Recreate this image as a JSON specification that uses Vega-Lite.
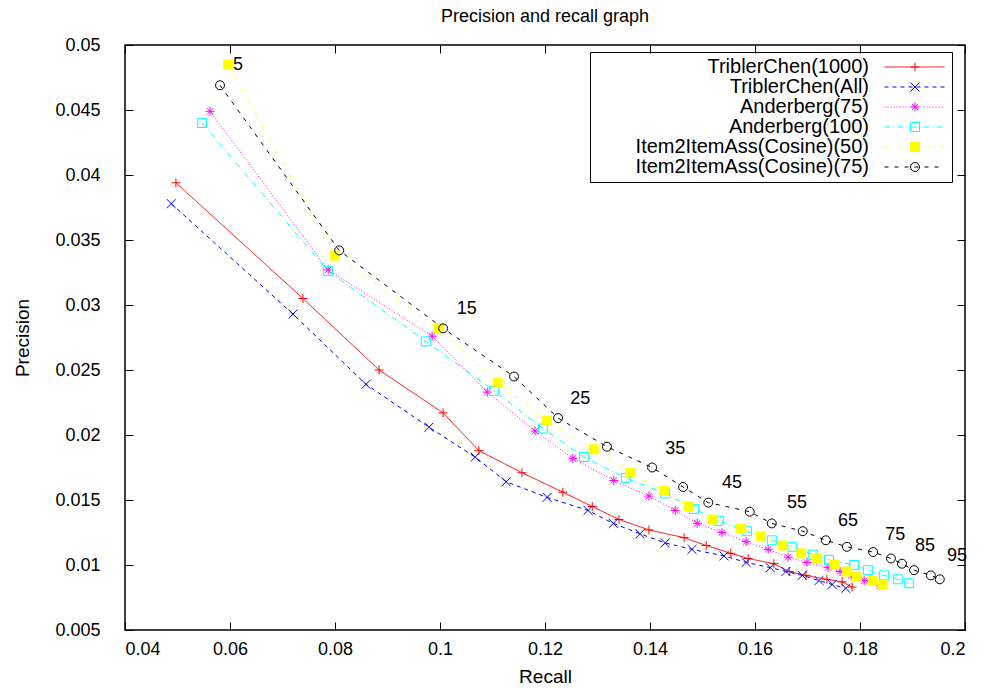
{
  "$schema": "https://vega.github.io/schema/vega-lite/v6.json",
  "autosize": "none",
  "width": 840,
  "height": 585,
  "padding": {"left": 125, "top": 45, "right": 18, "bottom": 60},
  "background": "white",
  "title": {"text": "Precision and recall graph", "font": "Liberation Sans", "fontSize": 18, "fontWeight": "normal", "color": "#000", "offset": 10, "anchor": "middle"},
  "config": {
    "view": {"stroke": "#000", "strokeWidth": 1.5},
    "font": "Liberation Sans",
    "axis": {"grid": false, "domain": false, "tickColor": "#000", "tickSize": -8, "tickWidth": 1, "labelFont": "Liberation Sans", "labelFontSize": 18, "labelColor": "#000", "titleFont": "Liberation Sans", "titleFontSize": 19, "titleFontWeight": "normal", "titleColor": "#000"}
  },
  "datasets": {
    "pts": [
      {"series": "TriblerChen(1000)", "recall": 0.0497, "precision": 0.0394},
      {"series": "TriblerChen(1000)", "recall": 0.0739, "precision": 0.0305},
      {"series": "TriblerChen(1000)", "recall": 0.0884, "precision": 0.0250},
      {"series": "TriblerChen(1000)", "recall": 0.1006, "precision": 0.0217},
      {"series": "TriblerChen(1000)", "recall": 0.1074, "precision": 0.0188},
      {"series": "TriblerChen(1000)", "recall": 0.1156, "precision": 0.0171},
      {"series": "TriblerChen(1000)", "recall": 0.1234, "precision": 0.0156},
      {"series": "TriblerChen(1000)", "recall": 0.1290, "precision": 0.0145},
      {"series": "TriblerChen(1000)", "recall": 0.1341, "precision": 0.0135},
      {"series": "TriblerChen(1000)", "recall": 0.1398, "precision": 0.0127},
      {"series": "TriblerChen(1000)", "recall": 0.1465, "precision": 0.0121},
      {"series": "TriblerChen(1000)", "recall": 0.1507, "precision": 0.0115},
      {"series": "TriblerChen(1000)", "recall": 0.1554, "precision": 0.0109},
      {"series": "TriblerChen(1000)", "recall": 0.1587, "precision": 0.0105},
      {"series": "TriblerChen(1000)", "recall": 0.1636, "precision": 0.0101},
      {"series": "TriblerChen(1000)", "recall": 0.1665, "precision": 0.0095},
      {"series": "TriblerChen(1000)", "recall": 0.1697, "precision": 0.0092},
      {"series": "TriblerChen(1000)", "recall": 0.1737, "precision": 0.0089},
      {"series": "TriblerChen(1000)", "recall": 0.1766, "precision": 0.0087},
      {"series": "TriblerChen(1000)", "recall": 0.1785, "precision": 0.0083},
      {"series": "TriblerChen(All)", "recall": 0.0488, "precision": 0.0378},
      {"series": "TriblerChen(All)", "recall": 0.0720, "precision": 0.0293},
      {"series": "TriblerChen(All)", "recall": 0.0859, "precision": 0.0239},
      {"series": "TriblerChen(All)", "recall": 0.0979, "precision": 0.0206},
      {"series": "TriblerChen(All)", "recall": 0.1067, "precision": 0.0183},
      {"series": "TriblerChen(All)", "recall": 0.1126, "precision": 0.0164},
      {"series": "TriblerChen(All)", "recall": 0.1204, "precision": 0.0152},
      {"series": "TriblerChen(All)", "recall": 0.1282, "precision": 0.0142},
      {"series": "TriblerChen(All)", "recall": 0.1330, "precision": 0.0132},
      {"series": "TriblerChen(All)", "recall": 0.1381, "precision": 0.0124},
      {"series": "TriblerChen(All)", "recall": 0.1429, "precision": 0.0117},
      {"series": "TriblerChen(All)", "recall": 0.1480, "precision": 0.0112},
      {"series": "TriblerChen(All)", "recall": 0.1541, "precision": 0.0107},
      {"series": "TriblerChen(All)", "recall": 0.1583, "precision": 0.0102},
      {"series": "TriblerChen(All)", "recall": 0.1629, "precision": 0.0098},
      {"series": "TriblerChen(All)", "recall": 0.1659, "precision": 0.0095},
      {"series": "TriblerChen(All)", "recall": 0.1690, "precision": 0.0092},
      {"series": "TriblerChen(All)", "recall": 0.1722, "precision": 0.0088},
      {"series": "TriblerChen(All)", "recall": 0.1747, "precision": 0.0085},
      {"series": "TriblerChen(All)", "recall": 0.1773, "precision": 0.0082},
      {"series": "Anderberg(75)", "recall": 0.0562, "precision": 0.0449},
      {"series": "Anderberg(75)", "recall": 0.0787, "precision": 0.0327},
      {"series": "Anderberg(75)", "recall": 0.0985, "precision": 0.0276},
      {"series": "Anderberg(75)", "recall": 0.1090, "precision": 0.0233},
      {"series": "Anderberg(75)", "recall": 0.1181, "precision": 0.0203},
      {"series": "Anderberg(75)", "recall": 0.1253, "precision": 0.0182},
      {"series": "Anderberg(75)", "recall": 0.1331, "precision": 0.0165},
      {"series": "Anderberg(75)", "recall": 0.1398, "precision": 0.0153},
      {"series": "Anderberg(75)", "recall": 0.1448, "precision": 0.0142},
      {"series": "Anderberg(75)", "recall": 0.1490, "precision": 0.0132},
      {"series": "Anderberg(75)", "recall": 0.1537, "precision": 0.0125},
      {"series": "Anderberg(75)", "recall": 0.1583, "precision": 0.0118},
      {"series": "Anderberg(75)", "recall": 0.1625, "precision": 0.0112},
      {"series": "Anderberg(75)", "recall": 0.1663, "precision": 0.0106},
      {"series": "Anderberg(75)", "recall": 0.1699, "precision": 0.0102},
      {"series": "Anderberg(75)", "recall": 0.1739, "precision": 0.0098},
      {"series": "Anderberg(75)", "recall": 0.1762, "precision": 0.0095},
      {"series": "Anderberg(75)", "recall": 0.1783, "precision": 0.0092},
      {"series": "Anderberg(75)", "recall": 0.1808, "precision": 0.0088},
      {"series": "Anderberg(75)", "recall": 0.1838, "precision": 0.0084},
      {"series": "Anderberg(100)", "recall": 0.0547, "precision": 0.0440},
      {"series": "Anderberg(100)", "recall": 0.0787, "precision": 0.0326},
      {"series": "Anderberg(100)", "recall": 0.0973, "precision": 0.0272},
      {"series": "Anderberg(100)", "recall": 0.1103, "precision": 0.0234},
      {"series": "Anderberg(100)", "recall": 0.1196, "precision": 0.0205},
      {"series": "Anderberg(100)", "recall": 0.1274, "precision": 0.0183},
      {"series": "Anderberg(100)", "recall": 0.1354, "precision": 0.0167},
      {"series": "Anderberg(100)", "recall": 0.1429, "precision": 0.0155},
      {"series": "Anderberg(100)", "recall": 0.1484, "precision": 0.0143},
      {"series": "Anderberg(100)", "recall": 0.1531, "precision": 0.0134},
      {"series": "Anderberg(100)", "recall": 0.1585, "precision": 0.0126},
      {"series": "Anderberg(100)", "recall": 0.1632, "precision": 0.0119},
      {"series": "Anderberg(100)", "recall": 0.1671, "precision": 0.0114},
      {"series": "Anderberg(100)", "recall": 0.1710, "precision": 0.0108},
      {"series": "Anderberg(100)", "recall": 0.1741, "precision": 0.0104},
      {"series": "Anderberg(100)", "recall": 0.1789, "precision": 0.0100},
      {"series": "Anderberg(100)", "recall": 0.1815, "precision": 0.0096},
      {"series": "Anderberg(100)", "recall": 0.1846, "precision": 0.0092},
      {"series": "Anderberg(100)", "recall": 0.1872, "precision": 0.0089},
      {"series": "Anderberg(100)", "recall": 0.1893, "precision": 0.0086},
      {"series": "Item2ItemAss(Cosine)(50)", "recall": 0.0596, "precision": 0.0485},
      {"series": "Item2ItemAss(Cosine)(50)", "recall": 0.0800, "precision": 0.0338},
      {"series": "Item2ItemAss(Cosine)(50)", "recall": 0.0998, "precision": 0.0282},
      {"series": "Item2ItemAss(Cosine)(50)", "recall": 0.1110, "precision": 0.0240},
      {"series": "Item2ItemAss(Cosine)(50)", "recall": 0.1204, "precision": 0.0211},
      {"series": "Item2ItemAss(Cosine)(50)", "recall": 0.1293, "precision": 0.0189},
      {"series": "Item2ItemAss(Cosine)(50)", "recall": 0.1362, "precision": 0.0171},
      {"series": "Item2ItemAss(Cosine)(50)", "recall": 0.1427, "precision": 0.0157},
      {"series": "Item2ItemAss(Cosine)(50)", "recall": 0.1474, "precision": 0.0145},
      {"series": "Item2ItemAss(Cosine)(50)", "recall": 0.1520, "precision": 0.0135},
      {"series": "Item2ItemAss(Cosine)(50)", "recall": 0.1573, "precision": 0.0128},
      {"series": "Item2ItemAss(Cosine)(50)", "recall": 0.1611, "precision": 0.0122},
      {"series": "Item2ItemAss(Cosine)(50)", "recall": 0.1653, "precision": 0.0115},
      {"series": "Item2ItemAss(Cosine)(50)", "recall": 0.1688, "precision": 0.0109},
      {"series": "Item2ItemAss(Cosine)(50)", "recall": 0.1718, "precision": 0.0105},
      {"series": "Item2ItemAss(Cosine)(50)", "recall": 0.1751, "precision": 0.0100},
      {"series": "Item2ItemAss(Cosine)(50)", "recall": 0.1775, "precision": 0.0095},
      {"series": "Item2ItemAss(Cosine)(50)", "recall": 0.1794, "precision": 0.0091},
      {"series": "Item2ItemAss(Cosine)(50)", "recall": 0.1825, "precision": 0.0088},
      {"series": "Item2ItemAss(Cosine)(50)", "recall": 0.1844, "precision": 0.0085},
      {"series": "Item2ItemAss(Cosine)(75)", "recall": 0.0581, "precision": 0.0469},
      {"series": "Item2ItemAss(Cosine)(75)", "recall": 0.0808, "precision": 0.0342},
      {"series": "Item2ItemAss(Cosine)(75)", "recall": 0.1006, "precision": 0.0282},
      {"series": "Item2ItemAss(Cosine)(75)", "recall": 0.1141, "precision": 0.0245},
      {"series": "Item2ItemAss(Cosine)(75)", "recall": 0.1225, "precision": 0.0213},
      {"series": "Item2ItemAss(Cosine)(75)", "recall": 0.1318, "precision": 0.0191},
      {"series": "Item2ItemAss(Cosine)(75)", "recall": 0.1404, "precision": 0.0175},
      {"series": "Item2ItemAss(Cosine)(75)", "recall": 0.1463, "precision": 0.0160},
      {"series": "Item2ItemAss(Cosine)(75)", "recall": 0.1511, "precision": 0.0148},
      {"series": "Item2ItemAss(Cosine)(75)", "recall": 0.1590, "precision": 0.0141},
      {"series": "Item2ItemAss(Cosine)(75)", "recall": 0.1632, "precision": 0.0132},
      {"series": "Item2ItemAss(Cosine)(75)", "recall": 0.1691, "precision": 0.0126},
      {"series": "Item2ItemAss(Cosine)(75)", "recall": 0.1735, "precision": 0.0119},
      {"series": "Item2ItemAss(Cosine)(75)", "recall": 0.1775, "precision": 0.0114},
      {"series": "Item2ItemAss(Cosine)(75)", "recall": 0.1825, "precision": 0.0110},
      {"series": "Item2ItemAss(Cosine)(75)", "recall": 0.1859, "precision": 0.0105},
      {"series": "Item2ItemAss(Cosine)(75)", "recall": 0.1880, "precision": 0.0101},
      {"series": "Item2ItemAss(Cosine)(75)", "recall": 0.1903, "precision": 0.0096},
      {"series": "Item2ItemAss(Cosine)(75)", "recall": 0.1935, "precision": 0.0092},
      {"series": "Item2ItemAss(Cosine)(75)", "recall": 0.1952, "precision": 0.0089}
    ],
    "labels": [
      {"label": "5", "recall": 0.0615, "precision": 0.0485},
      {"label": "15", "recall": 0.1051, "precision": 0.0297},
      {"label": "25", "recall": 0.1267, "precision": 0.0228},
      {"label": "35", "recall": 0.1448, "precision": 0.0189},
      {"label": "45", "recall": 0.1556, "precision": 0.0163},
      {"label": "55", "recall": 0.1680, "precision": 0.0148},
      {"label": "65", "recall": 0.1777, "precision": 0.0134},
      {"label": "75", "recall": 0.1867, "precision": 0.0123},
      {"label": "85", "recall": 0.1924, "precision": 0.0115},
      {"label": "95", "recall": 0.1985, "precision": 0.0107}
    ]
  },
  "layer": [
    {
      "data": {"name": "pts"},
      "mark": {"type": "line", "strokeWidth": 1, "clip": true},
      "encoding": {
        "x": {"field": "recall", "type": "quantitative", "scale": {"domain": [0.04, 0.2], "nice": false, "zero": false}, "axis": {"orient": "bottom", "values": [0.04, 0.06, 0.08, 0.1, 0.12, 0.14, 0.16, 0.18, 0.2], "format": "~g", "title": "Recall", "labelPadding": 18, "titlePadding": 9}},
        "y": {"field": "precision", "type": "quantitative", "scale": {"domain": [0.005, 0.05], "nice": false, "zero": false}, "axis": {"orient": "left", "values": [0.005, 0.01, 0.015, 0.02, 0.025, 0.03, 0.035, 0.04, 0.045, 0.05], "format": "~g", "title": "Precision", "labelPadding": 33, "titlePadding": 22}},
        "stroke": {"field": "series", "type": "nominal", "scale": {"domain": ["TriblerChen(1000)", "TriblerChen(All)", "Anderberg(75)", "Anderberg(100)", "Item2ItemAss(Cosine)(50)", "Item2ItemAss(Cosine)(75)"], "range": ["#ff0000", "#0000ff", "#ff00ff", "#00ffff", "#ffff00", "#000000"]},
          "legend": {"orient": "none", "legendX": 465, "legendY": 7, "title": null, "symbolType": "M55.9,0L67.9,0", "symbolSize": 100, "symbolStrokeWidth": 1, "labelAlign": "right", "labelOffset": 254, "labelLimit": 400, "labelFontSize": 20, "labelFont": "Liberation Sans", "labelColor": "#000", "rowPadding": -1, "padding": 5, "strokeColor": "#000",
            "encode": {"symbols": {"update": {"stroke": {"scale": "stroke", "field": "value"}, "strokeWidth": {"value": 1}}}}}},
        "strokeDash": {"field": "series", "type": "nominal", "scale": {"domain": ["TriblerChen(1000)", "TriblerChen(All)", "Anderberg(75)", "Anderberg(100)", "Item2ItemAss(Cosine)(50)", "Item2ItemAss(Cosine)(75)"], "range": [[1, 0], [4, 4], [1, 2], [6, 3, 1, 3], [3, 5, 1, 5], [4, 6]]},
          "legend": {"orient": "none", "legendX": 465, "legendY": 7, "title": null, "symbolType": "M55.9,0L67.9,0", "symbolSize": 100, "symbolStrokeWidth": 1, "labelAlign": "right", "labelOffset": 254, "labelLimit": 400, "labelFontSize": 20, "labelFont": "Liberation Sans", "labelColor": "#000", "rowPadding": -1, "padding": 5, "strokeColor": "#000",
            "encode": {"symbols": {"update": {"stroke": {"scale": "stroke", "field": "value"}, "strokeWidth": {"value": 1}}}}}},
        "detail": {"field": "series"}
      }
    },
    {
      "data": {"name": "pts"},
      "mark": {"type": "point", "strokeWidth": 1, "size": 80, "opacity": 1, "filled": false},
      "encoding": {
        "x": {"field": "recall", "type": "quantitative", "axis": null},
        "y": {"field": "precision", "type": "quantitative", "axis": null},
        "stroke": {"field": "series", "type": "nominal",
          "legend": {"orient": "none", "legendX": 780, "legendY": 12, "title": null, "symbolSize": 80, "symbolStrokeWidth": 1, "labelExpr": "''", "labelFontSize": 20, "rowPadding": -1, "padding": 0}},
        "shape": {"field": "series", "type": "nominal", "scale": {"domain": ["TriblerChen(1000)", "TriblerChen(All)", "Anderberg(75)", "Anderberg(100)", "Item2ItemAss(Cosine)(50)", "Item2ItemAss(Cosine)(75)"], "range": ["M-1,0L1,0M0,-1L0,1", "M-1,-1L1,1M-1,1L1,-1", "M-1,0L1,0M0,-1L0,1M-0.7,-0.7L0.7,0.7M-0.7,0.7L0.7,-0.7", "square", "square", "circle"]},
          "legend": {"orient": "none", "legendX": 780, "legendY": 12, "title": null, "symbolSize": 80, "symbolStrokeWidth": 1, "labelExpr": "''", "labelFontSize": 20, "rowPadding": -1, "padding": 0}},
        "fill": {"field": "series", "type": "nominal", "scale": {"domain": ["TriblerChen(1000)", "TriblerChen(All)", "Anderberg(75)", "Anderberg(100)", "Item2ItemAss(Cosine)(50)", "Item2ItemAss(Cosine)(75)"], "range": ["transparent", "transparent", "transparent", "transparent", "#ffff00", "transparent"]},
          "legend": {"orient": "none", "legendX": 780, "legendY": 12, "title": null, "symbolSize": 80, "symbolStrokeWidth": 1, "labelExpr": "''", "labelFontSize": 20, "rowPadding": -1, "padding": 0}}
      }
    },
    {
      "data": {"name": "labels"},
      "mark": {"type": "text", "font": "Liberation Sans", "fontSize": 18, "color": "#000", "align": "center", "baseline": "middle"},
      "encoding": {
        "x": {"field": "recall", "type": "quantitative", "axis": {"orient": "top", "values": [0.04, 0.06, 0.08, 0.1, 0.12, 0.14, 0.16, 0.18, 0.2], "labels": false, "title": null}},
        "y": {"field": "precision", "type": "quantitative", "axis": {"orient": "right", "values": [0.005, 0.01, 0.015, 0.02, 0.025, 0.03, 0.035, 0.04, 0.045, 0.05], "labels": false, "title": null}},
        "text": {"field": "label", "type": "nominal"}
      }
    }
  ],
  "resolve": {"axis": {"x": "independent", "y": "independent"}, "legend": {"stroke": "independent", "strokeDash": "independent", "shape": "independent", "fill": "independent"}}
}
